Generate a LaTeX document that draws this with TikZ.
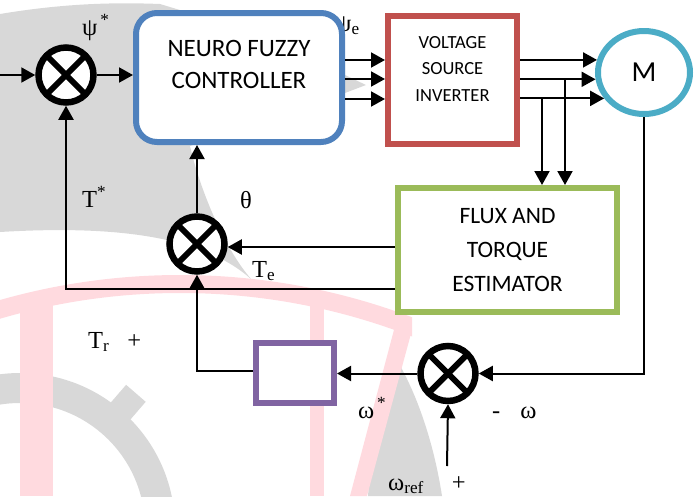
\documentclass[tikz,border=0pt]{standalone}
\usepackage{fontspec}
\setmainfont{Liberation Serif}
\newfontfamily\blockfont{Carlito}
\usepackage{tikz}
\usetikzlibrary{positioning, arrows.meta, calc, backgrounds, shapes.geometric}
\definecolor{nfcblue}{HTML}{4F81BD}
\definecolor{vsired}{HTML}{C0504D}
\definecolor{motorteal}{HTML}{4BACC6}
\definecolor{estgreen}{HTML}{9BBB59}
\definecolor{gainpurple}{HTML}{8064A2}
\definecolor{wmgray}{HTML}{D8D8D8}
\definecolor{wmpink}{HTML}{FFDADF}

\begin{document}
\begin{tikzpicture}[x=1pt, y=-1pt,
    sig/.style={line width=2pt, -{Triangle[length=14pt, width=15pt]}},
    sumjct/.style={circle, draw, fill=white, line width=6.5pt, minimum size=55pt, inner sep=0pt},
    blk/.style={draw, fill=white, line width=6pt, inner sep=0pt},
    lbl/.style={font=\fontsize{24.5}{28}\selectfont, inner sep=0pt}]
\useasboundingbox (0,0) rectangle (697,496);
% ---- faint watermark behind the diagram
\begin{scope}
    \fill[wmgray] (0,14) .. controls (60,4) and (110,2) .. (160,4) -- (345,60) -- (345,75) -- (366,85) -- (345,93)
        -- (190,146) .. controls (200,190) and (225,250) .. (252,280) .. controls (200,232) and (100,226) .. (0,232) -- cycle;
    \fill[wmgray, even odd rule] (20,528) circle (155pt) (20,528) circle (125pt);
    \fill[wmgray] (107.9,405.9) -- (127.5,422.9) -- (145.7,401.8) -- (126.1,384.8) -- cycle;
    \fill[wmgray] (398,362) .. controls (420,400) and (435,450) .. (442,496) -- (368,496) .. controls (372,440) and (385,395) .. cycle;
    \begin{scope}
        \clip (0,0) rectangle (412,496);
        \fill[wmpink, even odd rule] (180,931) circle (656pt) (180,931) circle (638pt);
    \end{scope}
    \fill[wmpink] (20,300) rectangle (53,496);
    \fill[wmpink] (310,296) rectangle (324,496);
    \fill[wmpink] (395,326) -- (412,330) -- (367,496) -- (350,496) -- cycle;
\end{scope}
% ---- label hidden partly by the controller
\node[lbl, anchor=base west] (lpsie) at (336,31) {ψ\textsubscript{e}};
% ---- blocks
\node[sumjct] (sumpsi) at (66,75) {};
\node[blk, draw=nfcblue, rounded corners=21pt, minimum width=206pt, minimum height=129pt] (nfc) at (239,77.5) {};
\node[font=\blockfont\fontsize{25}{32}\selectfont, align=center, inner sep=0pt] (nfctxt) at ($(nfc.center)+(0,-13)$) {NEURO FUZZY\\CONTROLLER};
\node[blk, draw=vsired, minimum width=129pt, minimum height=128pt] (vsi) at (452.5,80) {};
\node[font=\blockfont\fontsize{18.5}{26.5}\selectfont, align=center, inner sep=0pt] (vsitxt) at ($(vsi.center)+(0,-11.5)$) {VOLTAGE\\SOURCE\\INVERTER};
\node[ellipse, blk, draw=motorteal, minimum width=92pt, minimum height=83pt, font=\blockfont\fontsize{29}{34}\selectfont] (motor) at (644,72.5) {M};
\node[blk, draw=estgreen, minimum width=219pt, minimum height=124pt, align=center, font=\blockfont\fontsize{23.5}{34}\selectfont] (est) at (507.5,250) {FLUX AND\\TORQUE\\ESTIMATOR};
\node[sumjct] (sumte) at (197,244) {};
\node[sumjct] (sumw) at (448,373.5) {};
\node[blk, draw=gainpurple, minimum width=78pt, minimum height=60pt] (gain) at (295,373) {};
\foreach \s in {sumpsi,sumte,sumw} {
    \draw[line width=6pt] ($(\s.center)!0.9!(\s.north west)$) -- ($(\s.center)!0.9!(\s.south east)$);
    \draw[line width=6pt] ($(\s.center)!0.9!(\s.north east)$) -- ($(\s.center)!0.9!(\s.south west)$);
}
% ---- connectors
\coordinate (inl) at (0,75);
\coordinate (tapa) at (565,79);
\coordinate (tapb) at (542,99);
\coordinate (wref) at (447,466);
\draw[sig] (inl) -- (sumpsi);
\draw[sig] (sumpsi.east) -- (sumpsi.east -| nfc.west);
\foreach \y in {60,79,99} \draw[sig] (nfc.east |- 0,\y) -- (vsi.west |- 0,\y);
\foreach \a in {165,188,213} \draw[sig] (vsi.east |- motor.\a) -- (motor.\a);
\draw[sig] (tapa) -- (tapa |- est.north);
\draw[sig] (tapb) -- (tapb |- est.north);
\draw[sig] (motor.south) |- (sumw.east);
\draw[sig] (sumw.west) -- (sumw.west -| gain.east);
\draw[sig] (gain.west |- 0,371) -| (sumte.south);
\draw[sig] (wref) -- (sumw.south);
\draw[sig] (est.west |- 0,247) -- (sumte.east |- 0,247);
\draw[sig] (est.west |- 0,289) -| (sumpsi.south);
\draw[sig] (sumte.north) -- (sumte.north |- nfc.south);
% ---- signal labels
\node[lbl, anchor=base west] (lpsi) at (82,35) {ψ\textsuperscript{\,*}};
\node[lbl, anchor=base west] (ltref) at (82,207) {T\textsuperscript{*}};
\node[lbl, anchor=base] (ltheta) at (246,208) {θ};
\node[lbl, anchor=base west] (lte) at (252,277) {T\textsubscript{e}};
\node[lbl, anchor=base west] (ltr) at (88,348) {T\textsubscript{r}\hspace{18pt}+};
\node[lbl, anchor=base west] (lwst) at (358,418) {ω\textsuperscript{\,*}};
\node[lbl, anchor=base west] (lw) at (492,418) {-\hspace{20pt}ω};
\node[lbl, anchor=base west] (lwref) at (388,490) {ω\textsubscript{ref}\hspace{28pt}+};
\end{tikzpicture}
\end{document}
